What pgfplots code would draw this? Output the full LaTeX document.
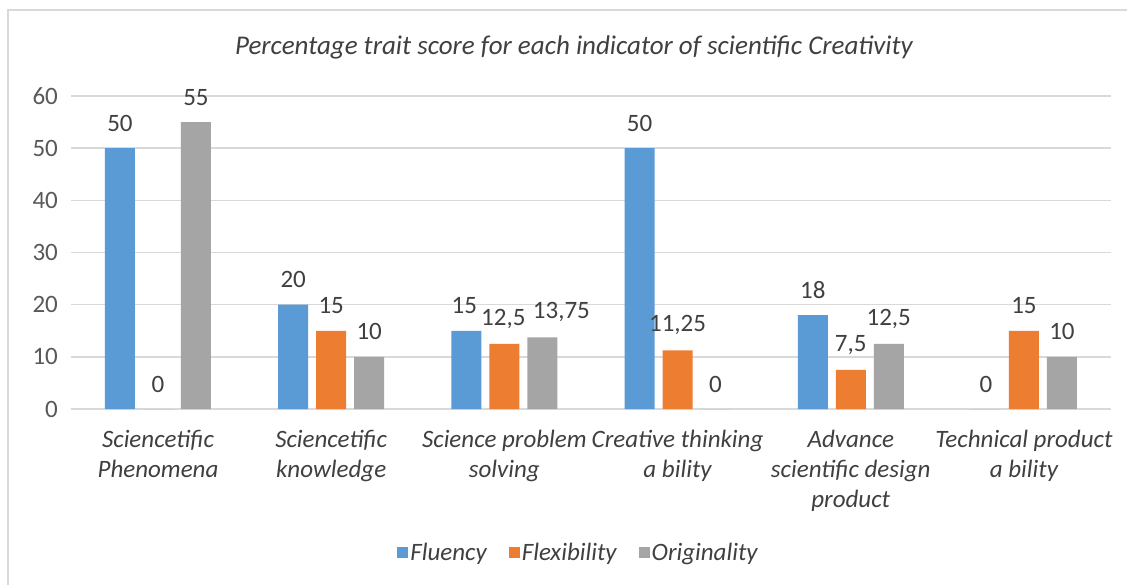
\documentclass[border=0pt]{standalone}
\usepackage{fontspec}
\setmainfont{Carlito}
\usepackage{pgfplots}
\usepackage{pgfplotstable}
\pgfplotsset{compat=1.18}
\definecolor{cblue}{HTML}{5B9BD5}
\definecolor{corange}{HTML}{ED7D31}
\definecolor{cgray}{HTML}{A5A5A5}
\definecolor{gridc}{HTML}{D9D9D9}
\definecolor{tickc}{HTML}{595959}
\definecolor{labc}{HTML}{404040}
\pgfplotstableread{
x y dx
0 50 0
1 20 0
2 15 -2
3 50 0
4 18 0
5 0 0
}\fluency
\pgfplotstableread{
x y dx
0 0 0
1 15 0
2 12.5 -1
3 11.25 0
4 7.5 0
5 15 0
}\flexibility
\pgfplotstableread{
x y dx
0 55 0
1 10 0
2 13.75 19
3 0 0
4 12.5 0
5 10 0
}\originality
\begin{document}
\begin{tikzpicture}[x=1pt,y=1pt]
\path[use as bounding box] (0,0) rectangle (1127,584);
\fill[white] (0,0) rectangle (1127,584);
\draw[gridc, line width=1.5pt] (8,-5) -- (8,574) -- (1135,574);
\node[font=\fontsize{27}{32}\selectfont\itshape, text=labc] at (574,537) {Percentage trait score for each indicator of scientific Creativity};
\begin{axis}[
  at={(71.4pt,175pt)}, anchor=south west,
  scale only axis, width=1039.2pt, height=313pt,
  xmin=-0.5, xmax=5.5, ymin=0, ymax=60,
  ybar=8pt, bar width=30pt,
  axis line style={draw=none},
  major tick length=0pt,
  ymajorgrids, grid style={gridc, line width=1.5pt},
  ytick={0,10,...,60},
  xtick={0,...,5},
  xticklabels={Sciencetific\\Phenomena, Sciencetific\\knowledge, Science problem\\solving, Creative thinking\\a bility, Advance\\scientific design\\product, Technical product\\a bility},
  font=\fontsize{25}{30}\selectfont,
  xticklabel style={align=center, font=\fontsize{25}{30}\selectfont\itshape, text=labc, yshift=-18pt},
  yticklabel style={text=tickc, xshift=-10pt},
  /pgf/number format/assume math mode=true,
  /pgf/number format/use comma,
  legend style={at={(0.488,-0.46)}, anchor=center, draw=none, legend columns=3, font=\fontsize{25}{30}\selectfont\itshape, text=labc, /tikz/every even column/.append style={column sep=20pt}},
  legend image code/.code={\fill[#1] (0pt,-5.5pt) rectangle (11pt,5.5pt);},
  lbl/.style={nodes near coords,
    visualization depends on={\thisrow{dx} \as \dx},
    every node near coord/.append style={anchor=center, yshift=25pt, xshift=\dx pt, text=labc, font=\fontsize{25}{30}\selectfont}},
]
\addplot[fill=cblue, draw=none, lbl] table[x=x,y=y] {\fluency};
\addplot[fill=corange, draw=none, lbl] table[x=x,y=y] {\flexibility};
\addplot[fill=cgray, draw=none, lbl] table[x=x,y=y] {\originality};
\legend{Fluency, Flexibility, Originality}
\end{axis}
\end{tikzpicture}
\end{document}
